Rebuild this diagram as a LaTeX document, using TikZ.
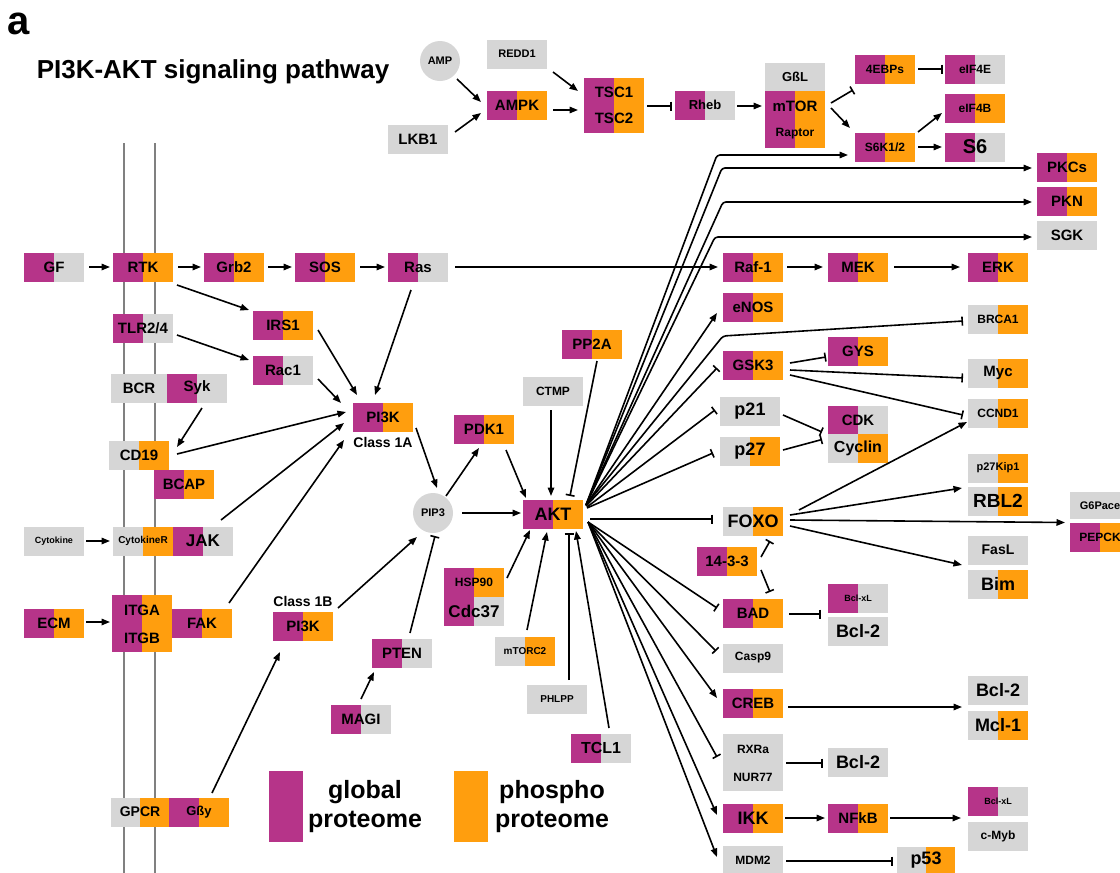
\documentclass[tikz,border=0pt]{standalone}
\usepackage{fontspec}
\setmainfont{Liberation Sans}
\usetikzlibrary{arrows.meta,calc}
\definecolor{mag}{RGB}{182,52,137}
\definecolor{org}{RGB}{255,158,14}
\definecolor{gry}{RGB}{214,214,214}
\definecolor{memb}{RGB}{128,128,128}
\newcommand\fz[1]{\fontsize{#1}{#1}\selectfont}
\newcommand\cn[5]{\draw[#1] ($(#2)+(#3)$) -- ($(#4)+(#5)$);}
\tikzset{
 duo/.style 2 args={path picture={\fill[#1] (path picture bounding box.south west) rectangle (path picture bounding box.north); \fill[#2] (path picture bounding box.south) rectangle (path picture bounding box.north east);}},
 box/.style={inner sep=0pt, minimum width=60pt, minimum height=29pt, font=\bfseries\fz{15}},
 MO/.style={box,duo={mag}{org}},
 MG/.style={box,duo={mag}{gry}},
 GO/.style={box,duo={gry}{org}},
 GG/.style={box,fill=gry},
 fs/.style={font=\bfseries\fz{#1}},
 arr/.style={line width=1.6pt, -{Triangle[length=8.5pt,width=6.5pt]}},
 inh/.style={line width=1.6pt, -{Bar[width=9pt,line width=1.6pt]}},
 circ/.style={circle, fill=gry, minimum size=40pt, inner sep=0pt, font=\bfseries\fz{11}},
 membrane/.style={draw=memb, line width=2.5pt},
}
\begin{document}
\begin{tikzpicture}[x=1pt,y=-1pt]
\useasboundingbox (0,0) rectangle (1120,873);
% membrane
\coordinate (m1t) at (124,143); \coordinate (m1b) at (124,873);
\coordinate (m2t) at (155,143); \coordinate (m2b) at (155,873);
\draw[membrane] (m1t) -- (m1b);
\draw[membrane] (m2t) -- (m2b);
% titles
\node[fs=40] (lbla) at (19,24) {a};
\node[fs=26] (title) at (213,72) {PI3K-AKT signaling pathway};
% top
\node[circ] (AMP) at (440,61) {AMP};
\node[GG,fs=11] (REDD1) at (517,54) {REDD1};
\node[GG] (LKB1) at (418,139) {LKB1};
\node[MO] (AMPK) at (517,105) {AMPK};
\node[MO,minimum height=55pt] (TSC) at (614,105) {};
\node[fs=15] (TSC1) at (614,92) {TSC1};
\node[fs=15] (TSC2) at (614,118) {TSC2};
\node[MG,fs=13] (Rheb) at (705,105) {Rheb};
\node[GG,minimum height=28pt,fs=13] (GbL) at (795,77) {GßL};
\node[MO,minimum height=57pt] (mTOR) at (795,119.5) {};
\node[fs=15] (mTORl) at (795,106) {mTOR};
\node[fs=12] (Raptor) at (795,134) {Raptor};
\node[MO,fs=12] (EBP) at (885,69) {4EBPs};
\node[MG,fs=12] (eIF4E) at (975,69) {eIF4E};
\node[MO,fs=12] (eIF4B) at (975,108) {eIF4B};
\node[MO,fs=12] (S6K) at (885,147) {S6K1/2};
\node[MG,fs=20] (S6) at (975,147) {S6};
\node[MO] (PKCs) at (1067,167) {PKCs};
\node[MO] (PKN) at (1067,201) {PKN};
\node[GG] (SGK) at (1067,235) {SGK};
% row 2
\node[MG] (GF) at (54,267) {GF};
\node[MO] (RTK) at (143,267) {RTK};
\node[MO] (Grb2) at (234,267) {Grb2};
\node[MO] (SOS) at (325,267) {SOS};
\node[MG] (Ras) at (418,267) {Ras};
\node[MO] (Raf) at (753,267) {Raf-1};
\node[MO] (MEK) at (858,267) {MEK};
\node[MO] (ERK) at (998,267) {ERK};
% left
\node[MG] (TLR) at (143,328) {TLR2/4};
\node[MO] (IRS1) at (283,325) {IRS1};
\node[MG] (Rac1) at (283,370) {Rac1};
\node[GG,minimum width=57pt] (BCR) at (139,388) {BCR};
\node[MG] (Syk) at (197,388) {Syk};
\node[GO] (CD19) at (139,455) {CD19};
\node[MO] (BCAP) at (184,484) {BCAP};
\node[MO] (PIKa) at (383,417) {PI3K};
\node[fs=14] (cla) at (383,442) {Class 1A};
\node[circ] (PIP3) at (433,513) {PIP3};
\node[MO] (PDK1) at (484,429) {PDK1};
\node[GG,fs=12] (CTMP) at (553,391) {CTMP};
\node[MO] (PP2A) at (592,344) {PP2A};
\node[MO,fs=18] (AKT) at (553,514) {AKT};
\node[GG,fs=9] (Cytokine) at (54,541) {Cytokine};
\node[GO,fs=10] (CytR) at (143,541) {CytokineR};
\node[MG,fs=17] (JAK) at (203,541) {JAK};
\node[MO] (ECM) at (54,623) {ECM};
\node[MO,minimum height=57pt] (ITG) at (142,623) {};
\node[fs=15] (ITGA) at (142,610) {ITGA};
\node[fs=15] (ITGB) at (142,638) {ITGB};
\node[MO] (FAK) at (202,623) {FAK};
\node[fs=14] (clb) at (303,601) {Class 1B};
\node[MO] (PIKb) at (303,626) {PI3K};
\node[MG] (PTEN) at (402,653) {PTEN};
\node[MG] (MAGI) at (361,719) {MAGI};
\node[MO,fs=12] (HSP) at (474,582) {HSP90};
\node[MG,fs=17] (Cdc) at (474,611) {Cdc37};
\node[GO,fs=10] (mTORC2) at (525,651) {mTORC2};
\node[GG,fs=10] (PHLPP) at (557,699) {PHLPP};
\node[MG,fs=16] (TCL1) at (601,748) {TCL1};
\node[GO,minimum width=58pt,fs=14] (GPCR) at (140,812) {GPCR};
\node[MO,fs=13] (Gby) at (199,812) {Gßy};
% legend
\node[fill=mag,minimum width=34pt,minimum height=71pt,inner sep=0pt] (legM) at (286,806.5) {};
\node[font=\bfseries\fontsize{25}{29}\selectfont,align=center] (legMt) at (365,807) {global\\proteome};
\node[fill=org,minimum width=34pt,minimum height=71pt,inner sep=0pt] (legO) at (471,806.5) {};
\node[font=\bfseries\fontsize{25}{29}\selectfont,align=center] (legOt) at (552,807) {phospho\\proteome};
% right column
\node[MO] (eNOS) at (753,307) {eNOS};
\node[MO] (GSK3) at (753,365) {GSK3};
\node[GG,fs=18] (p21) at (750,411) {p21};
\node[GO,fs=18] (p27) at (750,451) {p27};
\node[GO,fs=18] (FOXO) at (753,521) {FOXO};
\node[MO] (F1433) at (727,561) {14-3-3};
\node[MO] (BAD) at (753,613) {BAD};
\node[GG,fs=12] (Casp9) at (753,658) {Casp9};
\node[MO] (CREB) at (753,703) {CREB};
\node[GG,minimum height=57pt] (RXR) at (753,762) {};
\node[fs=12] (RXRa) at (753,749) {RXRa};
\node[fs=12] (NUR77) at (753,777) {NUR77};
\node[MO,fs=18] (IKK) at (753,818) {IKK};
\node[GG,minimum height=28pt,fs=12] (MDM2) at (753,860) {MDM2};
% middle right
\node[MO] (GYS) at (858,351) {GYS};
\node[MG] (CDK) at (858,420) {CDK};
\node[GO,fs=16] (Cyclin) at (858,448.5) {Cyclin};
\node[MG,fs=9] (BclxLa) at (858,598) {Bcl-xL};
\node[GG,fs=18] (Bcl2a) at (858,631) {Bcl-2};
\node[GG,fs=18] (Bcl2b) at (858,762) {Bcl-2};
\node[MO] (NFkB) at (858,818) {NFkB};
\node[GO,minimum width=58pt,minimum height=27pt,fs=18] (p53) at (926,860) {p53};
% far right
\node[GO,fs=12] (BRCA1) at (998,319) {BRCA1};
\node[GO] (Myc) at (998,373) {Myc};
\node[GO,fs=12] (CCND1) at (998,413) {CCND1};
\node[GO,fs=11] (p27Kip1) at (998,468) {p27Kip1};
\node[GO,fs=19] (RBL2) at (998,501) {RBL2};
\node[GG,fs=14] (FasL) at (998,550) {FasL};
\node[GO,fs=18] (Bim) at (998,584) {Bim};
\node[GG,fs=18] (Bcl2c) at (998,690) {Bcl-2};
\node[GO,fs=18] (Mcl1) at (998,725) {Mcl-1};
\node[MG,fs=9] (BclxLb) at (998,801) {Bcl-xL};
\node[GG,fs=12] (cMyb) at (998,836) {c-Myb};
\node[GG,minimum height=27pt,fs=11] (G6Pace) at (1100,505.5) {G6Pace};
\node[MO,fs=12] (PEPCK) at (1100,537.5) {PEPCK};
% ---- connectors: top
\cn{arr}{AMP}{17,18}{AMPK}{-36,-3}
\cn{arr}{LKB1}{37,-7}{AMPK}{-36,8}
\cn{arr}{REDD1}{36,18}{TSC}{-36,-14}
\cn{arr}{AMPK}{36,5}{TSC}{-36,5}
\cn{inh}{TSC}{33,1}{Rheb}{-33,1}
\cn{arr}{Rheb}{32,1}{mTOR}{-33,-13.5}
\cn{inh}{mTOR}{36,-16.5}{EBP}{-32,21}
\cn{arr}{mTOR}{36,-11.5}{S6K}{-35,-19}
\cn{inh}{EBP}{33,0}{eIF4E}{-32,0}
\cn{arr}{S6K}{33,-15}{eIF4B}{-33,5}
\cn{arr}{S6K}{33,0}{S6}{-33,0}
% row 2
\cn{arr}{GF}{35,0}{RTK}{-33,0}
\cn{arr}{RTK}{35,0}{Grb2}{-33,0}
\cn{arr}{Grb2}{34,0}{SOS}{-33,0}
\cn{arr}{SOS}{35,0}{Ras}{-33,0}
\cn{arr}{Ras}{37,0}{Raf}{-35,0}
\cn{arr}{Raf}{34,0}{MEK}{-35,0}
\cn{arr}{MEK}{36,0}{ERK}{-38,0}
% left
\cn{arr}{RTK}{34,18}{IRS1}{-34,-15}
\cn{arr}{TLR}{34,7}{Rac1}{-34,-10}
\cn{arr}{Ras}{-7,23}{PIKa}{-8,-22}
\cn{arr}{IRS1}{35,5}{PIKa}{-26,-22}
\cn{arr}{Rac1}{35,9}{PIKa}{-42,-14}
\cn{arr}{Syk}{5,20}{CD19}{38,-8}
\cn{arr}{CD19}{38,-1}{PIKa}{-37,-5}
\cn{arr}{JAK}{18,-21}{PIKa}{-39,6}
\cn{arr}{FAK}{27,-20}{PIKa}{-39,23}
\cn{arr}{Gby}{13,-19}{PIKb}{-23,26}
\cn{arr}{clb}{35,7}{PIP3}{-16,24}
\cn{inh}{PTEN}{8,-20}{PIP3}{2,23}
\cn{arr}{MAGI}{0,-20}{PTEN}{-28,19}
\cn{arr}{PIKa}{33,11}{PIP3}{4,-25}
\cn{arr}{PIP3}{13,-17}{PDK1}{-5,19}
\cn{arr}{PIP3}{29,0}{AKT}{-32,-1}
\cn{arr}{PDK1}{22,21}{AKT}{-27,-16}
\cn{arr}{CTMP}{-2,19}{AKT}{-2,-18}
\cn{inh}{PP2A}{5,17}{AKT}{17,-18}
\cn{arr}{HSP}{33,-4}{AKT}{-23,16}
\cn{arr}{mTORC2}{2,-21}{AKT}{-6,18}
\cn{inh}{PHLPP}{12,-19}{AKT}{16,19}
\cn{arr}{TCL1}{8,-20}{AKT}{23,17}
\cn{arr}{Cytokine}{32,0}{CytR}{-33,0}
\cn{arr}{ECM}{32,-1}{ITG}{-32,-1}
% AKT fan, routed
\coordinate (k1) at (717,155);
\coordinate (k2) at (722,168);
\coordinate (k3) at (723,202);
\coordinate (k4) at (715,237);
\coordinate (k5) at (723,336);
\draw[arr,rounded corners=3pt] ($(AKT)+(33,-9)$) -- (k1) -- ($(S6K)+(-37,8)$);
\draw[arr,rounded corners=3pt] ($(AKT)+(33,-9)$) -- (k2) -- ($(PKCs)+(-35,1)$);
\draw[arr,rounded corners=3pt] ($(AKT)+(33,-9)$) -- (k3) -- ($(PKN)+(-35,1)$);
\draw[arr,rounded corners=3pt] ($(AKT)+(33,-9)$) -- (k4) -- ($(SGK)+(-35,2)$);
\draw[inh,rounded corners=3pt] ($(AKT)+(33,-9)$) -- (k5) -- ($(BRCA1)+(-35,2)$);
\cn{arr}{AKT}{33,-9}{eNOS}{-36,6}
\cn{inh}{AKT}{33,-8}{GSK3}{-36,3}
\cn{inh}{AKT}{34,-7}{p21}{-35,-1}
\cn{inh}{AKT}{34,-6}{p27}{-37,2}
\cn{inh}{AKT}{37,5}{FOXO}{-40,-2}
\cn{inh}{AKT}{35,8}{BAD}{-36,-5}
\cn{inh}{AKT}{35,8}{Casp9}{-37,-7}
\cn{arr}{AKT}{35,8}{CREB}{-36,-5}
\cn{inh}{AKT}{35,8}{RXR}{-36,-5}
\cn{arr}{AKT}{35,8}{IKK}{-36,-3}
\cn{arr}{AKT}{35,8}{MDM2}{-36,-3}
% right side
\cn{inh}{GSK3}{37,-2}{GYS}{-32,6}
\cn{inh}{GSK3}{37,5}{Myc}{-35,5}
\cn{inh}{GSK3}{37,10}{CCND1}{-35,2}
\cn{inh}{p21}{33,4}{CDK}{-36,12}
\cn{inh}{p27}{33,-1}{Cyclin}{-36,-9}
\cn{arr}{FOXO}{46,-11}{CCND1}{-31,9}
\cn{arr}{FOXO}{37,-6}{RBL2}{-36,-13}
\cn{arr}{FOXO}{37,-1}{PEPCK}{-35,-15}
\cn{arr}{FOXO}{37,5}{Bim}{-36,-19}
\cn{inh}{F1433}{34,-4}{FOXO}{17,20}
\cn{inh}{F1433}{34,9}{BAD}{17,-21}
\cn{inh}{BAD}{36,1}{BclxLa}{-37,16}
\cn{arr}{CREB}{35,4}{Bcl2c}{-36,17}
\cn{inh}{RXR}{33,1}{Bcl2b}{-35,1}
\cn{arr}{IKK}{32,0}{NFkB}{-33,0}
\cn{arr}{NFkB}{32,0}{BclxLb}{-37,17}
\cn{inh}{MDM2}{33,1}{p53}{-33,1}
\end{tikzpicture}
\end{document}
